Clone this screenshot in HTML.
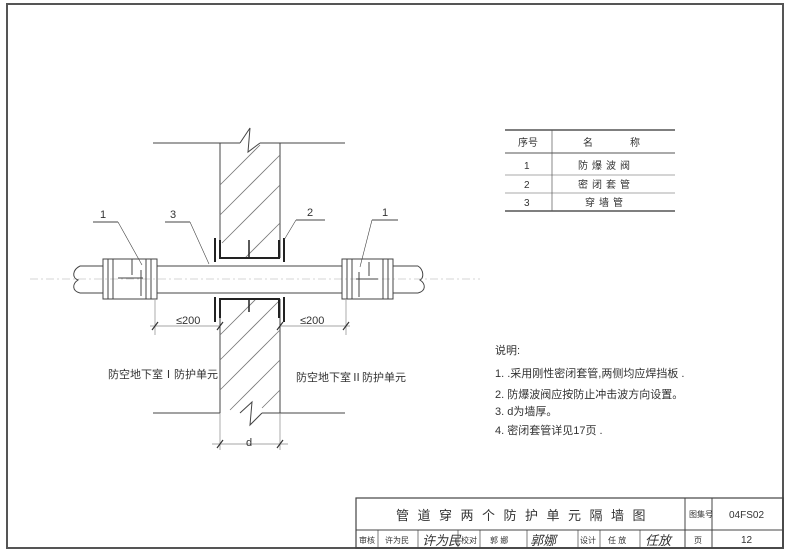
<!DOCTYPE html>
<html><head><meta charset="utf-8"><style>
body{margin:0;background:#fff;}
svg{display:block;}
text{font-family:"Liberation Sans","Noto Sans CJK SC",sans-serif;fill:#333;}
</style></head><body>
<svg width="794" height="552" viewBox="0 0 794 552" xmlns="http://www.w3.org/2000/svg">
<rect width="794" height="552" fill="#fff"/>
<!-- frame -->
<path d="M7 4 H783 V548 H7 Z" fill="none" stroke="#555" stroke-width="2"/>
<!-- wall -->
<g stroke="#444" stroke-width="1" fill="none">
<line x1="153" y1="143" x2="240" y2="143"/>
<line x1="260" y1="143" x2="345" y2="143"/>
<line x1="153" y1="413" x2="220" y2="413"/>
<line x1="262" y1="413" x2="345" y2="413"/>
<line x1="220" y1="143" x2="220" y2="258"/>
<line x1="280" y1="143" x2="280" y2="258"/>
<line x1="220" y1="299" x2="220" y2="413"/>
<line x1="280" y1="299" x2="280" y2="413"/>
<!-- break marks -->
<polyline points="240,143 250,128 248,152 260,143"/>
<polyline points="240,413 252,402 250,425 262,413"/>
<!-- hatch -->
<g stroke="#777" stroke-width="0.8">
<line x1="220" y1="185" x2="260" y2="145"/>
<line x1="220" y1="215" x2="280" y2="155"/>
<line x1="222" y1="243" x2="280" y2="185"/>
<line x1="245" y1="258" x2="280" y2="223"/>
<line x1="220" y1="335" x2="256" y2="299"/>
<line x1="220" y1="360" x2="280" y2="300"/>
<line x1="220" y1="390" x2="280" y2="330"/>
<line x1="230" y1="410" x2="280" y2="360"/>
<line x1="262" y1="408" x2="280" y2="390"/>
</g>
<!-- sleeve -->
<g stroke="#222" stroke-width="2">
<line x1="215" y1="238" x2="215" y2="262"/>
<line x1="284" y1="238" x2="284" y2="262"/>
<line x1="215" y1="297" x2="215" y2="322"/>
<line x1="284" y1="297" x2="284" y2="322"/>
<polyline points="220,240 220,258 279,258 279,240"/>
<polyline points="220,318 220,299 279,299 279,318"/>
<line x1="249" y1="240" x2="249" y2="258" stroke-width="1.5"/>
<line x1="249" y1="299" x2="249" y2="312" stroke-width="1.5"/>
</g>
<!-- pipe -->
<line x1="157" y1="266" x2="342" y2="266"/>
<line x1="157" y1="293" x2="342" y2="293"/>
<line x1="80" y1="266" x2="103" y2="266"/>
<line x1="80" y1="293" x2="103" y2="293"/>
<line x1="393" y1="266" x2="418" y2="266"/>
<line x1="393" y1="293" x2="418" y2="293"/>
<path d="M80 266 C72 270,72 278,78 280 C72 284,72 291,80 293"/>
<path d="M418 266 C424 270,424 278,420 280 C426 284,426 291,418 293"/>
<line x1="30" y1="279" x2="480" y2="279" stroke="#aaa" stroke-width="0.6" stroke-dasharray="8,3,2,3"/>
<!-- flanges -->
<rect x="103" y="259" width="54" height="40"/>
<line x1="108" y1="259" x2="108" y2="299"/><line x1="113" y1="259" x2="113" y2="299"/>
<line x1="146" y1="259" x2="146" y2="299"/><line x1="151" y1="259" x2="151" y2="299"/>
<line x1="132" y1="259" x2="132" y2="275"/><line x1="118" y1="278" x2="143" y2="278"/><line x1="141" y1="270" x2="141" y2="296"/>
<rect x="342" y="259" width="51" height="40"/>
<line x1="347" y1="259" x2="347" y2="299"/><line x1="352" y1="259" x2="352" y2="299"/>
<line x1="383" y1="259" x2="383" y2="299"/><line x1="388" y1="259" x2="388" y2="299"/>
<line x1="369" y1="262" x2="369" y2="276"/><line x1="356" y1="279" x2="378" y2="279"/><line x1="359" y1="272" x2="359" y2="297"/>
<!-- leaders -->
<line x1="93" y1="222" x2="118" y2="222"/><line x1="118" y1="222" x2="142" y2="265" stroke-width="0.6"/>
<line x1="165" y1="222" x2="190" y2="222"/><line x1="190" y1="222" x2="209" y2="264" stroke-width="0.6"/>
<line x1="296" y1="220" x2="325" y2="220"/><line x1="296" y1="220" x2="284" y2="240" stroke-width="0.6"/>
<line x1="372" y1="220" x2="398" y2="220"/><line x1="372" y1="220" x2="360" y2="267" stroke-width="0.6"/>
<!-- dims -->
<g stroke="#888" stroke-width="0.7">
<line x1="150" y1="326" x2="220" y2="326"/><line x1="155" y1="300" x2="155" y2="335"/>
<line x1="280" y1="326" x2="350" y2="326"/><line x1="346" y1="300" x2="346" y2="335"/>
<line x1="220" y1="413" x2="220" y2="450"/><line x1="280" y1="413" x2="280" y2="450"/>
<line x1="212" y1="444" x2="288" y2="444"/>
</g>
<g stroke="#333" stroke-width="1.2">
<line x1="152" y1="330" x2="158" y2="322"/><line x1="217" y1="330" x2="223" y2="322"/>
<line x1="277" y1="330" x2="283" y2="322"/><line x1="343" y1="330" x2="349" y2="322"/>
<line x1="217" y1="448" x2="223" y2="440"/><line x1="277" y1="448" x2="283" y2="440"/>
</g>
</g>
<g font-size="11">
<text x="100" y="218">1</text><text x="170" y="218">3</text><text x="307" y="216">2</text><text x="382" y="216">1</text>
<text x="176" y="324">≤200</text><text x="300" y="324">≤200</text>
<text x="246" y="446">d</text>
</g>
<g font-size="11">
<text x="108" y="378">防空地下室Ⅰ防护单元</text>
<text x="296" y="381">防空地下室Ⅱ防护单元</text>
</g>
<!-- table -->
<g stroke="#555" fill="none">
<line x1="505" y1="130" x2="675" y2="130" stroke-width="1.5"/>
<line x1="505" y1="153" x2="675" y2="153"/>
<line x1="505" y1="175" x2="675" y2="175" stroke-width="0.6"/>
<line x1="505" y1="193" x2="675" y2="193" stroke-width="0.6"/>
<line x1="505" y1="211" x2="675" y2="211" stroke-width="1.5"/>
<line x1="552" y1="130" x2="552" y2="211" stroke-width="0.7"/>
</g>
<g font-size="10" fill="#555">
<text x="518" y="146">序号</text><text x="583" y="146">名</text><text x="630" y="146">称</text>
<text x="524" y="169">1</text><text x="524" y="188">2</text><text x="524" y="206">3</text>
<text x="578" y="169" letter-spacing="4">防爆波阀</text>
<text x="578" y="188" letter-spacing="4">密闭套管</text>
<text x="585" y="206" letter-spacing="4">穿墙管</text>
</g>
<!-- notes -->
<g font-size="11" fill="#444">
<text x="495" y="354">说明:</text>
<text x="495" y="377">1. .采用刚性密闭套管,两侧均应焊挡板 .</text>
<text x="495" y="398">2. 防爆波阀应按防止冲击波方向设置。</text>
<text x="495" y="415">3. d为墙厚。</text>
<text x="495" y="434">4. 密闭套管详见17页 .</text>
</g>
<!-- title block -->
<g stroke="#444" fill="none">
<rect x="356" y="498" width="427" height="50" stroke-width="1.2"/>
<line x1="356" y1="530" x2="783" y2="530"/>
<line x1="685" y1="498" x2="685" y2="548"/>
<line x1="712" y1="498" x2="712" y2="548"/>
<g stroke-width="0.7">
<line x1="378" y1="530" x2="378" y2="548"/><line x1="418" y1="530" x2="418" y2="548"/>
<line x1="458" y1="530" x2="458" y2="548"/><line x1="480" y1="530" x2="480" y2="548"/>
<line x1="527" y1="530" x2="527" y2="548"/><line x1="578" y1="530" x2="578" y2="548"/>
<line x1="600" y1="530" x2="600" y2="548"/><line x1="640" y1="530" x2="640" y2="548"/>
</g>
</g>
<text x="396" y="520" font-size="13" letter-spacing="8.5" fill="#444">管道穿两个防护单元隔墙图</text>
<g font-size="8" fill="#444">
<text x="359" y="543">审核</text><text x="385" y="543">许为民</text><text x="461" y="543">校对</text>
<text x="490" y="543">郭 娜</text><text x="580" y="543">设计</text><text x="608" y="543">任 放</text>
<text x="689" y="517">图集号</text><text x="694" y="543">页</text>
</g>
<g font-size="10" fill="#444"><text x="729" y="518">04FS02</text><text x="741" y="543">12</text></g>
<g font-family="Liberation Serif" font-size="13" font-style="italic" fill="#333">
<text x="422" y="545">许为民</text><text x="530" y="545">郭娜</text><text x="645" y="545">任放</text>
</g>
</svg>
</body></html>
